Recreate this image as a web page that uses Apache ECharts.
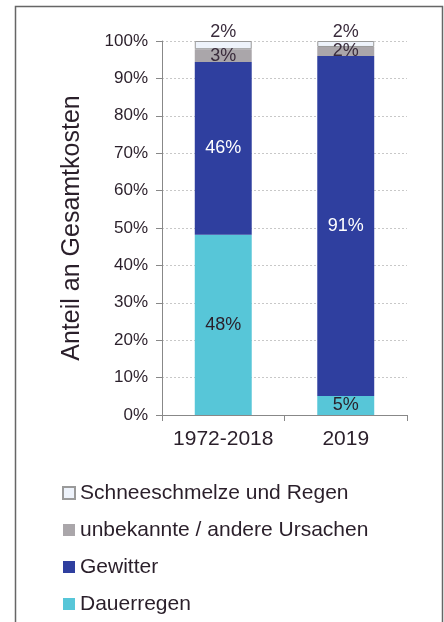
<!DOCTYPE html>
<html><head><meta charset="utf-8">
<script src="https://cdn.jsdelivr.net/npm/echarts@6/dist/echarts.min.js"></script>
<style>html,body{margin:0;padding:0;background:#fff}#c{width:444px;height:622px}</style>
</head><body><div id="c"></div>
<script>
const categories = ['1972-2018', '2019'];
const dauerregen = [48.2, 5.1];
const gewitter = [46.2, 90.9];
const unbekannt = [3.4, 2.4];
const schnee = [2.2, 1.6];
const yTicks = [0, 10, 20, 30, 40, 50, 60, 70, 80, 90, 100];

const font = 'Liberation Sans, Arial, sans-serif';
const fmt = p => Math.round(p.value) + '%';
function mk(name, data, color, labelColor, pos, extra) {
  return Object.assign({
    name, type: 'bar', stack: 'a', data, barWidth: '46.5%',
    itemStyle: { color },
    label: { show: true, position: pos, formatter: fmt, color: labelColor, fontSize: 18, fontFamily: font, distance: 0 }
  }, extra || {});
}
const chart = echarts.init(document.getElementById('c'));
chart.setOption({
  animation: false,
  graphic: [{ type: 'rect', shape: { x: 15.5, y: 6.5, width: 427, height: 640 }, style: { fill: 'none', stroke: '#666', lineWidth: 1.5 }, silent: true }],
  grid: { left: 162, right: 37, top: 41, bottom: 207 },
  xAxis: {
    type: 'category', data: categories,
    axisLine: { lineStyle: { color: '#888' } },
    axisTick: { show: true, length: 6, lineStyle: { color: '#888' } },
    axisLabel: { interval: 0, hideOverlap: false, fontSize: 21, color: '#2a1f2a', fontFamily: font, margin: 14 }
  },
  yAxis: {
    type: 'value', min: 0, max: 100, interval: 10,
    name: 'Anteil an Gesamtkosten', nameLocation: 'middle', nameGap: 77,
    nameTextStyle: { fontSize: 25, color: '#2a1f2a', fontFamily: font },
    axisLine: { show: true, lineStyle: { color: '#888' } },
    axisTick: { show: true, length: 6, lineStyle: { color: '#888' } },
    axisLabel: { fontSize: 17, color: '#2a1f2a', fontFamily: font, margin: 14,
      formatter: v => (yTicks.indexOf(v) >= 0 ? v + '%' : '') },
    splitLine: { lineStyle: { color: '#c8c8c8', type: [2, 2] } }
  },
  legend: {
    orient: 'vertical', left: 62, top: 482, padding: 0, itemWidth: 12, itemHeight: 12, itemGap: 15,
    icon: 'rect',
    data: ['Schneeschmelze und Regen', 'unbekannte / andere Ursachen', 'Gewitter', 'Dauerregen'],
    textStyle: { fontSize: 21, color: '#2a1f2a', fontFamily: font, lineHeight: 22, padding: [0, 0, 0, 0] }
  },
  series: [
    mk('Dauerregen', dauerregen, '#57c6d8', '#2a1f2a', 'inside'),
    mk('Gewitter', gewitter, '#2f3f9f', '#ffffff', 'inside'),
    mk('unbekannte / andere Ursachen', unbekannt, '#aaa6aa', '#3a2c3c', 'inside'),
    mk('Schneeschmelze und Regen', schnee, '#eef3fb', '#3a2c3c', 'top',
       { itemStyle: { color: '#eef3fb', borderColor: '#9a9a9a', borderWidth: 1 } })
  ]
});
</script></body></html>
